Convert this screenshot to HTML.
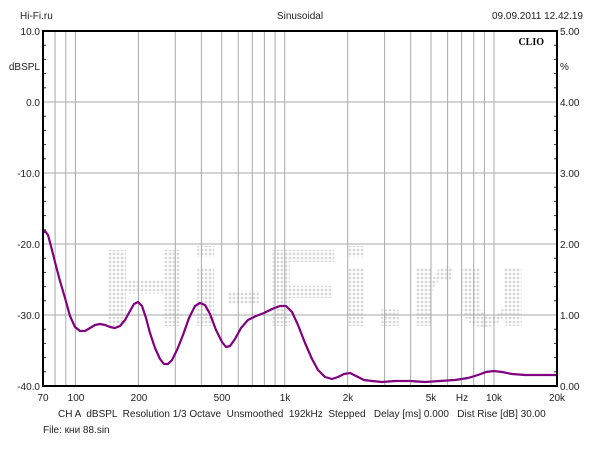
<!DOCTYPE html>
<html><head><meta charset="utf-8"><style>
body{margin:0;background:#fff;width:600px;height:450px;overflow:hidden}
svg{display:block;font-family:"Liberation Sans",sans-serif}
</style></head><body>
<svg width="600" height="450" viewBox="0 0 600 450">
<defs><pattern id="dots" width="4" height="4" patternUnits="userSpaceOnUse"><circle cx="2" cy="2" r="1.4" fill="#d8d8d8"/></pattern></defs>
<rect width="600" height="450" fill="#fff"/>
<text x="20" y="19" font-size="10" fill="#222">Hi-Fi.ru</text>
<text x="300" y="19" font-size="10" fill="#222" text-anchor="middle">Sinusoidal</text>
<text x="583" y="19" font-size="10" fill="#222" text-anchor="end">09.09.2011 12.42.19</text>
<text x="100" y="326" font-size="110" font-weight="bold" fill="url(#dots)" textLength="430" lengthAdjust="spacingAndGlyphs">Hi-Fi.ru</text>
<g stroke="#aaa" stroke-width="1">
<line x1="43" y1="102" x2="557" y2="102"/><line x1="43" y1="173" x2="557" y2="173"/>
<line x1="43" y1="244" x2="557" y2="244"/><line x1="43" y1="315" x2="557" y2="315"/>
<line x1="55.1" y1="31" x2="55.1" y2="386"/><line x1="65.8" y1="31" x2="65.8" y2="386"/>
<line x1="75.4" y1="31" x2="75.4" y2="386"/><line x1="138.4" y1="31" x2="138.4" y2="386"/>
<line x1="175.3" y1="31" x2="175.3" y2="386"/><line x1="201.4" y1="31" x2="201.4" y2="386"/>
<line x1="221.7" y1="31" x2="221.7" y2="386"/><line x1="238.3" y1="31" x2="238.3" y2="386"/>
<line x1="252.3" y1="31" x2="252.3" y2="386"/><line x1="264.4" y1="31" x2="264.4" y2="386"/>
<line x1="275.1" y1="31" x2="275.1" y2="386"/><line x1="284.7" y1="31" x2="284.7" y2="386"/>
<line x1="347.7" y1="31" x2="347.7" y2="386"/><line x1="384.6" y1="31" x2="384.6" y2="386"/>
<line x1="410.7" y1="31" x2="410.7" y2="386"/><line x1="431.0" y1="31" x2="431.0" y2="386"/>
<line x1="447.6" y1="31" x2="447.6" y2="386"/><line x1="461.6" y1="31" x2="461.6" y2="386"/>
<line x1="473.7" y1="31" x2="473.7" y2="386"/><line x1="484.4" y1="31" x2="484.4" y2="386"/>
<line x1="494.0" y1="31" x2="494.0" y2="386"/>
</g>
<g stroke="#333" stroke-width="1">
<line x1="43" y1="45.2" x2="46" y2="45.2"/><line x1="43" y1="59.4" x2="46" y2="59.4"/><line x1="43" y1="73.6" x2="46" y2="73.6"/><line x1="43" y1="87.8" x2="46" y2="87.8"/>
<line x1="43" y1="116.2" x2="46" y2="116.2"/><line x1="43" y1="130.4" x2="46" y2="130.4"/><line x1="43" y1="144.6" x2="46" y2="144.6"/><line x1="43" y1="158.8" x2="46" y2="158.8"/>
<line x1="43" y1="187.2" x2="46" y2="187.2"/><line x1="43" y1="201.4" x2="46" y2="201.4"/><line x1="43" y1="215.6" x2="46" y2="215.6"/><line x1="43" y1="229.8" x2="46" y2="229.8"/>
<line x1="43" y1="258.2" x2="46" y2="258.2"/><line x1="43" y1="272.4" x2="46" y2="272.4"/><line x1="43" y1="286.6" x2="46" y2="286.6"/><line x1="43" y1="300.8" x2="46" y2="300.8"/>
<line x1="43" y1="329.2" x2="46" y2="329.2"/><line x1="43" y1="343.4" x2="46" y2="343.4"/><line x1="43" y1="357.6" x2="46" y2="357.6"/><line x1="43" y1="371.8" x2="46" y2="371.8"/>
<line x1="554" y1="45.2" x2="557" y2="45.2"/><line x1="554" y1="59.4" x2="557" y2="59.4"/><line x1="554" y1="73.6" x2="557" y2="73.6"/><line x1="554" y1="87.8" x2="557" y2="87.8"/>
<line x1="554" y1="116.2" x2="557" y2="116.2"/><line x1="554" y1="130.4" x2="557" y2="130.4"/><line x1="554" y1="144.6" x2="557" y2="144.6"/><line x1="554" y1="158.8" x2="557" y2="158.8"/>
<line x1="554" y1="187.2" x2="557" y2="187.2"/><line x1="554" y1="201.4" x2="557" y2="201.4"/><line x1="554" y1="215.6" x2="557" y2="215.6"/><line x1="554" y1="229.8" x2="557" y2="229.8"/>
<line x1="554" y1="258.2" x2="557" y2="258.2"/><line x1="554" y1="272.4" x2="557" y2="272.4"/><line x1="554" y1="286.6" x2="557" y2="286.6"/><line x1="554" y1="300.8" x2="557" y2="300.8"/>
<line x1="554" y1="329.2" x2="557" y2="329.2"/><line x1="554" y1="343.4" x2="557" y2="343.4"/><line x1="554" y1="357.6" x2="557" y2="357.6"/><line x1="554" y1="371.8" x2="557" y2="371.8"/>
</g>
<polyline fill="none" stroke="#800080" stroke-width="2.2" stroke-linejoin="round" stroke-linecap="round" points="43,233 45,231 48,235 52,250 56,266 60,281 65,298 70,316 75,327 80,331 85,331 90,328 95,325 100,324 105,325 110,327 115,328 120,326 125,320 130,311 134,304 138,302 142,306 146,318 150,333 155,348 160,359 164,364 168,364 172,360 177,350 183,335 189,318 195,306 200,303 205,305 210,314 216,330 222,342 226,347 230,346 235,339 241,328 248,320 256,316 264,313 272,309 280,306 286,306 292,312 298,325 305,343 312,359 318,370 325,377 332,379 338,377 344,374 350,373 356,376 364,380 372,381 382,382 395,381 410,381 425,382 440,381 455,380 468,378 478,375 486,372 494,371 502,372 512,374 525,375 540,375 557,375"/>
<rect x="43" y="31" width="514" height="355" fill="none" stroke="#000" stroke-width="2"/>
<text x="544" y="45" font-size="10" font-weight="bold" font-family="Liberation Serif,serif" text-anchor="end">CLIO</text>
<g font-size="10" fill="#222" text-anchor="end">
<text x="40" y="35">10.0</text><text x="40" y="106">0.0</text><text x="40" y="177">-10.0</text>
<text x="40" y="248">-20.0</text><text x="40" y="319">-30.0</text><text x="40" y="390">-40.0</text>
<text x="40" y="70">dBSPL</text>
</g>
<g font-size="10" fill="#222">
<text x="560" y="35">5.00</text><text x="560" y="106">4.00</text><text x="560" y="177">3.00</text>
<text x="560" y="248">2.00</text><text x="560" y="319">1.00</text><text x="560" y="390">0.00</text>
<text x="560" y="70">%</text>
</g>
<g font-size="10" fill="#222" text-anchor="middle">
<text x="43" y="401">70</text><text x="76" y="401">100</text><text x="139" y="401">200</text>
<text x="222" y="401">500</text><text x="285" y="401">1k</text><text x="348" y="401">2k</text>
<text x="431" y="401">5k</text><text x="462" y="401">Hz</text><text x="494" y="401">10k</text><text x="557" y="401">20k</text>
</g>
<text x="58" y="417" font-size="10" fill="#222" xml:space="preserve">CH A  dBSPL  Resolution 1/3 Octave  Unsmoothed  192kHz  Stepped   Delay [ms] 0.000   Dist Rise [dB] 30.00</text>
<text x="43" y="433" font-size="10" fill="#222" font-family="Liberation Sans,DejaVu Sans,sans-serif">File: кни 88.sin</text>
</svg>
</body></html>
